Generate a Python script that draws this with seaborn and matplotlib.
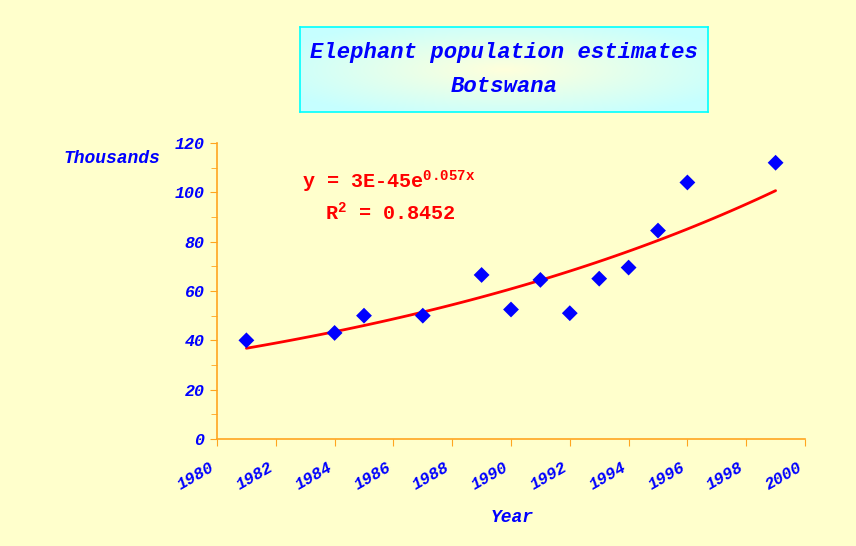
import numpy as np
import pandas as pd
import matplotlib
matplotlib.use("Agg")
import matplotlib.pyplot as plt
from matplotlib.ticker import MultipleLocator
import seaborn as sns

# ----------------------------
# Data
# ----------------------------
years = [1981, 1984, 1985, 1987, 1989, 1990, 1991, 1992, 1993, 1994, 1995, 1996, 1999]
elephants = [40, 43, 50, 50, 66.5, 52.5, 64.5, 51, 65, 69.5, 84.5, 104, 112]
title_lines = ["Elephant population estimates", "Botswana"]
eq_text = r"y = 3E-45e$^{\mathbf{0.057x}}$"
r2_text = r"R$^{\mathbf{2}}$ = 0.8452"

df = pd.DataFrame({"year": years, "pop": elephants})

# exponential trend line fitted to the points
b, lna = np.polyfit(df["year"] - 1980, np.log(df["pop"]), 1)
fit = pd.DataFrame({"year": np.linspace(min(years), max(years), 60)})
fit["pop"] = np.exp(lna + b * (fit["year"] - 1980))

# ----------------------------
# Style
# ----------------------------
sns.set_style("ticks")
plt.rcParams["font.family"] = ["Liberation Mono", "DejaVu Sans"]
plt.rcParams["mathtext.fontset"] = "custom"
plt.rcParams["mathtext.bf"] = "Liberation Mono:bold"
plt.rcParams["mathtext.rm"] = "Liberation Mono"

bg = "#FFFFCC"
blue = "#0000FF"
orange = "#FFA520"

fig = plt.figure(figsize=(8.56, 5.46), dpi=100, facecolor=bg)
ax = fig.add_axes([217/856, 1-439/546, 588/856, 296/546])
ax.set_facecolor(bg)

sns.lineplot(data=fit, x="year", y="pop", color="red", lw=2, ax=ax)
sns.scatterplot(data=df, x="year", y="pop", marker="D", s=65, color=blue,
                edgecolor="none", ax=ax, zorder=3)

ax.set_xlim(1980, 2000)
ax.set_ylim(0, 120)
ax.xaxis.set_major_locator(MultipleLocator(2))
ax.yaxis.set_major_locator(MultipleLocator(20))
ax.yaxis.set_minor_locator(MultipleLocator(10))

for s in ["top", "right"]:
    ax.spines[s].set_visible(False)
for s in ["left", "bottom"]:
    ax.spines[s].set_color(orange)
    ax.spines[s].set_linewidth(1.2)
ax.tick_params(axis="both", which="both", color=orange, direction="out")
ax.tick_params(axis="y", which="major", length=5, pad=4)
ax.tick_params(axis="y", which="minor", length=4)
ax.tick_params(axis="x", length=5, pad=10)

tick_font = dict(family="Liberation Mono", weight="bold", style="italic",
                 size=12, color=blue)
ax.set_xticks(range(1980, 2001, 2))
ax.set_xticklabels([str(y) for y in range(1980, 2001, 2)], rotation=30,
                   ha="right", **tick_font)
ax.set_yticks(range(0, 121, 20))
ax.set_yticklabels([str(v) for v in range(0, 121, 20)], **tick_font)

ax.set_xlabel("")
ax.set_ylabel("")
lab_font = dict(family="Liberation Mono", weight="bold", style="italic",
                size=13, color=blue)
fig.text(112/856, 1-158/546, "Thousands", ha="center", va="center", **lab_font)
fig.text(512/856, 1-518/546, "Year", ha="center", va="center", **lab_font)

# equation
eq_font = dict(family="Liberation Mono", weight="bold", size=14.5, color="red")
ax.text(1985.85, 104.3, eq_text, ha="center", va="center", **eq_font)
ax.text(1985.9, 91.7, r2_text, ha="center", va="center", **eq_font)

# title box with soft gradient
tax = fig.add_axes([300/856, 1-112/546, 408/856, 85/546])
yy, xx = np.mgrid[-1:1:100j, -1:1:200j]
rr = np.clip(np.sqrt(xx**2 + yy**2) / 1.2, 0, 1)
c_in = np.array([1.0, 1.0, 0.86])
c_out = np.array([0.78, 1.0, 1.0])
grad = c_in[None, None, :] * (1 - rr[..., None]) + c_out[None, None, :] * rr[..., None]
tax.imshow(grad, aspect="auto", extent=[0, 1, 0, 1])
tax.set_xticks([])
tax.set_yticks([])
for s in tax.spines.values():
    s.set_color("#00FFFF")
    s.set_linewidth(1.2)
title_font = dict(family="Liberation Mono", weight="bold", style="italic",
                  size=16, color=blue)
tax.text(0.5, 0.70, title_lines[0], ha="center", va="center", **title_font)
tax.text(0.5, 0.30, title_lines[1], ha="center", va="center", **title_font)

fig.savefig("out.png", dpi=100, facecolor=bg)
